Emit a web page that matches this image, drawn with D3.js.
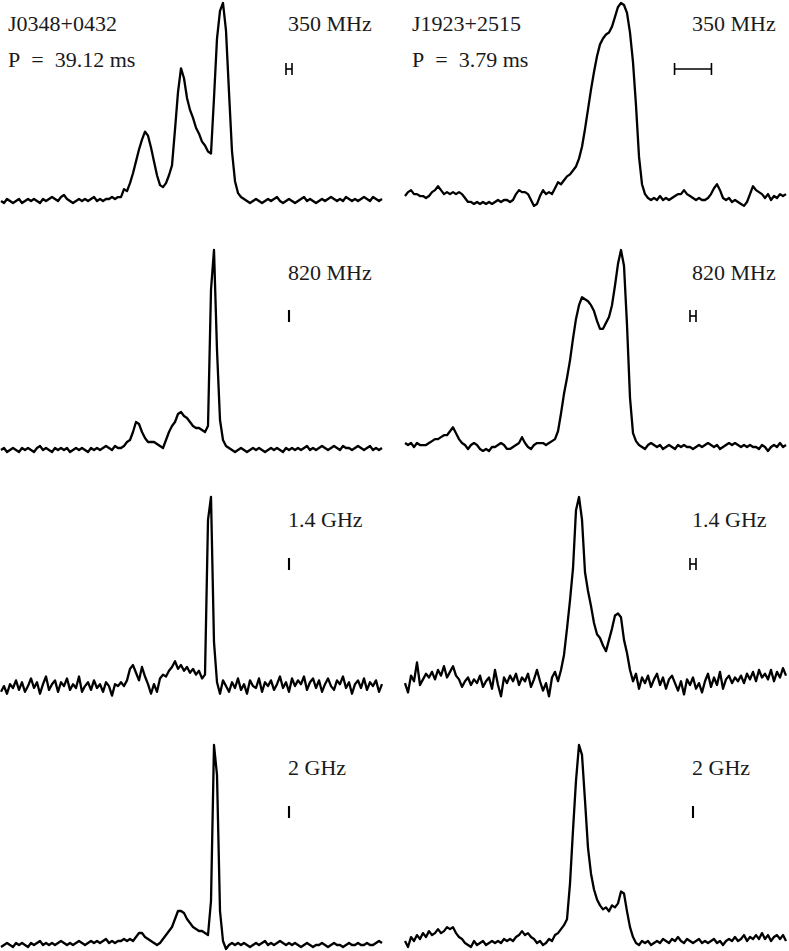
<!DOCTYPE html>
<html>
<head>
<meta charset="utf-8">
<script src="https://cdn.jsdelivr.net/npm/d3@7/dist/d3.min.js"></script>
<style>
  html, body { margin: 0; padding: 0; background: #fff; }
  svg { display: block; }
  text { font-family: "Liberation Serif", "DejaVu Serif", serif; fill: #1a1a1a; }
</style>
</head>
<body>
<svg id="chart" width="789" height="951"></svg>
<script>
// ---------- DATA ----------
const pulsarNames = ["J0348+0432", "J1923+2515"];
const periodLabels = ["P\u2002=\u200239.12 ms", "P\u2002=\u20023.79 ms"];
const freqLabels = ["350 MHz", "820 MHz", "1.4 GHz", "2 GHz"];

// Time-resolution bar widths, in phase bins (rows: 350, 820, 1400, 2000 MHz)
const resBinsJ0348 = [2, 0.7, 0.7, 0.7];
const resBinsJ1923 = [12.3, 2, 2, 0.7];

// Pulse profiles, 128 phase bins, amplitude in % of peak
const j0348_350 = [
  0,-1,1,0,-1,0,1,-1,0,1,
  0,1,0,-1,1,0,1,2,1,0,
  2,3,1,0,-1,0,1,0,1,0,
  1,2,0,1,0,1,1,2,1,2,
  2,6,5,9,14,20,26,31,35,33,
  27,20,13,8,7,9,13,18,36,55,
  67,62,52,46,42,37,34,30,28,25,
  24,52,82,96,100,86,55,25,10,4,
  2,1,0,-1,0,1,0,-1,0,1,
  0,1,2,0,-1,0,1,0,-1,0,
  1,2,0,1,0,-1,0,1,0,1,
  2,1,0,1,0,2,1,0,1,0,
  1,2,1,0,2,1,0,1
];
const j0348_820 = [
  0,1,-1,0,1,0,-1,1,0,1,
  0,-1,1,2,0,1,0,-1,1,0,
  1,0,1,-1,0,1,0,1,0,-1,
  1,0,1,0,1,2,1,0,2,1,
  1,2,4,5,9,14,13,9,6,4,
  4,4,3,2,1,5,9,12,14,18,
  19,17,16,14,12,11,11,10,9,12,
  80,100,50,15,5,2,1,0,-1,0,
  1,0,-1,0,1,0,1,0,-1,0,
  1,0,1,0,-1,1,0,1,0,1,
  0,1,2,0,1,0,1,2,1,0,
  1,2,1,0,2,1,1,0,1,2,
  1,0,1,2,0,1,0,1
];
const j0348_1400 = [
  -2,1,-3,2,0,4,-1,3,-2,1,
  5,0,3,-3,2,6,-1,2,4,-2,
  3,1,5,-1,2,0,6,-2,1,3,
  -1,4,0,2,-2,3,1,-4,2,1,
  3,1,4,10,12,8,4,11,6,2,
  -3,2,-2,5,7,6,9,11,14,10,
  12,9,11,8,10,7,9,5,7,88,
  100,24,3,-3,4,1,-2,3,0,5,
  -1,2,-3,4,1,0,5,-2,3,1,
  4,-1,2,6,0,3,-2,5,1,4,
  2,6,-1,3,5,0,4,-2,2,5,
  1,-1,4,2,6,0,3,-3,2,4,
  0,5,-1,3,1,4,-2,2
];
const j0348_2000 = [
  -1,0,1,0,-1,1,0,1,0,-1,
  1,0,1,2,0,1,0,1,0,1,
  2,1,0,1,0,1,2,1,0,1,
  2,1,2,1,2,3,1,2,1,2,
  2,3,2,3,2,4,6,6,4,3,
  2,1,0,1,3,5,7,9,13,17,
  17,16,13,11,9,8,7,7,6,5,
  22,100,85,17,2,-2,0,1,0,1,
  0,1,0,-1,0,1,0,1,2,0,
  1,0,1,2,1,0,1,0,1,0,
  -1,0,1,0,-1,0,0,1,0,-1,
  0,1,0,0,-1,0,1,0,0,1,
  0,0,1,0,0,1,2,1
];
const j1923_350 = [
  2,4,5,3,3,2,2,1,2,4,
  5,7,5,3,4,3,4,3,4,3,
  1,-1,-1,-2,-1,-2,-1,-2,-1,-2,
  -1,0,-1,0,0,-1,0,3,5,4,
  4,3,0,-3,-2,2,5,3,4,3,
  6,9,8,10,12,13,15,17,21,27,
  36,46,56,65,73,79,82,84,85,88,
  93,98,100,99,95,85,70,48,22,8,
  3,1,0,1,0,2,0,1,0,1,
  2,3,3,5,3,2,1,0,1,0,
  0,1,3,6,8,5,1,0,1,-1,
  0,-1,-2,-3,-1,3,7,5,4,3,
  1,3,0,2,1,3,2,3
];
const j1923_820 = [
  2,1,2,0,2,1,1,1,2,3,
  4,4,5,6,6,8,10,7,4,2,
  1,-1,1,2,1,-1,-2,-1,-2,0,
  0,1,2,1,-1,-1,0,1,2,5,
  2,0,-1,1,2,2,2,1,2,3,
  4,8,17,27,35,44,55,65,72,76,
  75,74,72,69,64,60,60,63,66,72,
  82,93,100,92,62,25,7,3,1,0,
  -1,1,2,1,0,1,-1,0,1,0,
  -1,1,0,1,0,0,-1,0,1,0,
  1,2,1,0,1,-1,0,1,2,1,
  2,1,0,1,0,1,0,0,-1,1,
  0,-2,0,1,0,2,0,1
];
const j1923_1400 = [
  1,-4,5,2,12,0,3,6,4,7,
  3,8,5,10,4,7,10,5,3,-1,
  2,4,0,3,1,5,-1,2,4,-2,
  8,0,-6,4,1,5,2,6,0,4,
  2,6,-1,3,8,2,-3,1,-6,4,
  7,2,8,16,30,45,62,93,100,88,
  60,50,42,33,27,25,21,18,24,30,
  37,38,36,24,17,8,2,6,-2,4,
  1,5,-1,3,6,0,4,-2,3,5,
  1,-3,2,-5,3,0,4,-2,1,-4,
  2,6,-1,4,0,7,-2,3,5,1,
  4,2,5,1,6,3,7,2,8,4,
  6,3,8,2,7,4,9,5
];
const j1923_2000 = [
  1,-2,3,1,4,2,5,3,6,4,
  5,7,5,6,8,7,8,5,3,2,
  0,-1,-2,1,-1,0,1,-1,0,1,
  0,1,0,2,1,2,1,3,4,6,
  4,5,3,2,0,1,-1,0,2,1,
  4,5,7,9,12,30,57,82,100,95,
  72,48,35,27,22,19,17,18,16,19,
  18,20,26,25,16,8,3,0,-1,1,
  0,1,-1,0,1,0,2,1,0,2,
  1,3,1,0,2,1,0,1,2,0,
  1,0,1,2,0,1,-1,1,2,1,
  3,1,2,4,1,3,2,4,2,5,
  2,4,1,3,4,2,4,1
];

const profilesJ0348 = [j0348_350, j0348_820, j0348_1400, j0348_2000];
const profilesJ1923 = [j1923_350, j1923_820, j1923_1400, j1923_2000];

// ---------- LAYOUT ----------
const colX = [[1, 382], [405, 786]];
const rowTop = [3, 250, 497, 745];
const rowBase = [[201, 450, 688, 945], [200, 447, 685, 943]];
const labelBase = [31, 280, 527, 775];
const barCenterY = [69, 316, 564, 812];
const labelX = [288, 692];
const barCenterX = [289, 693];
const fontSize = 22;

const svg = d3.select("#chart");

const columns = [
  { name: pulsarNames[0], period: periodLabels[0], profiles: profilesJ0348, res: resBinsJ0348 },
  { name: pulsarNames[1], period: periodLabels[1], profiles: profilesJ1923, res: resBinsJ1923 }
];

columns.forEach((col, c) => {
  col.profiles.forEach((vals, r) => {
    const x = d3.scaleLinear().domain([0, vals.length - 1]).range(colX[c]);
    const y = d3.scaleLinear().domain([0, 100]).range([rowBase[c][r], rowTop[r]]);
    const line = d3.line().x((d, i) => x(i)).y(d => y(d));
    svg.append("path")
      .datum(vals)
      .attr("d", line)
      .attr("fill", "none")
      .attr("stroke", "#000")
      .attr("stroke-width", 2.3)
      .attr("stroke-linejoin", "round");

    // frequency label
    svg.append("text")
      .attr("x", labelX[c])
      .attr("y", labelBase[r])
      .attr("font-size", fontSize)
      .text(freqLabels[r]);

    // resolution bar (width from bins via the x scale)
    const w = x(col.res[r]) - x(0);
    const cx = barCenterX[c], cy = barCenterY[r];
    const g = svg.append("g").attr("stroke", "#000");
    if (w > 3) {
      g.append("line").attr("x1", cx - w / 2).attr("x2", cx + w / 2)
        .attr("y1", cy).attr("y2", cy).attr("stroke-width", 1.6);
      [cx - w / 2, cx + w / 2].forEach(xx => {
        g.append("line").attr("x1", xx).attr("x2", xx)
          .attr("y1", cy - 6).attr("y2", cy + 6).attr("stroke-width", 1.6);
      });
    } else {
      g.append("rect").attr("x", cx - Math.max(w, 2) / 2).attr("y", cy - 6)
        .attr("width", Math.max(w, 2)).attr("height", 12)
        .attr("fill", "#000").attr("stroke", "none");
    }
  });

  // pulsar name and period
  const lx = c === 0 ? 8 : 412;
  svg.append("text").attr("x", lx).attr("y", labelBase[0]).attr("font-size", fontSize).text(col.name);
  svg.append("text").attr("x", lx).attr("y", 67).attr("font-size", fontSize).text(col.period);
});
</script>
</body>
</html>
